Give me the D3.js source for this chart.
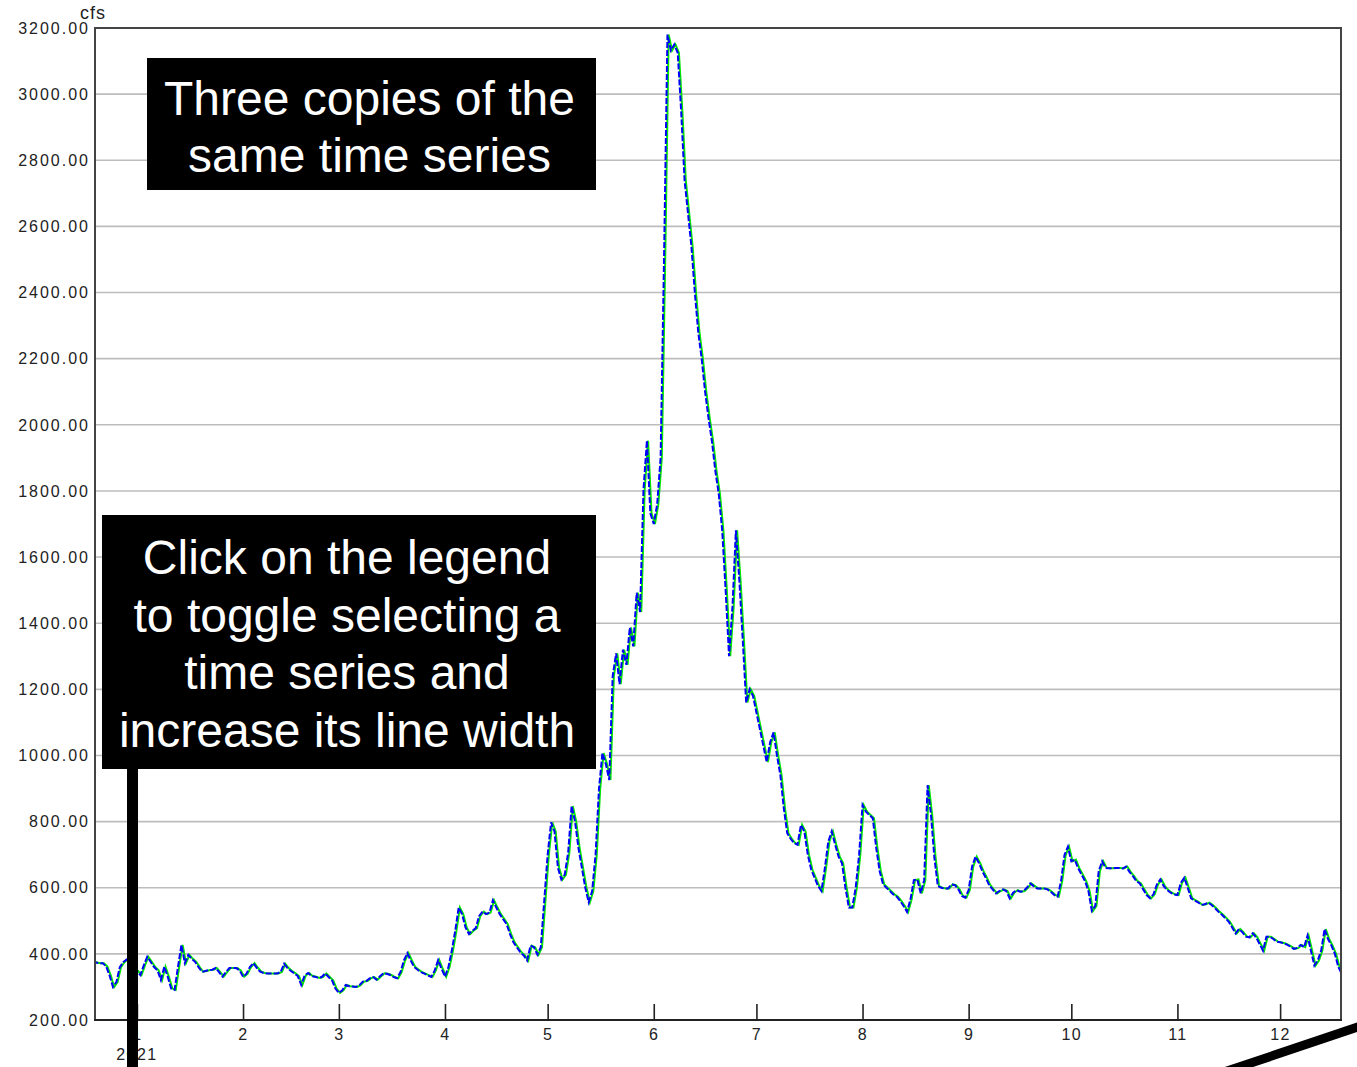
<!DOCTYPE html>
<html>
<head>
<meta charset="utf-8">
<script src="https://cdn.jsdelivr.net/npm/d3@7"></script>
<style>
  html, body { margin: 0; padding: 0; background: #fff; }
  svg { display: block; }
  text { font-family: "Liberation Sans", Arial, sans-serif; }
</style>
</head>
<body>
<svg id="chart" width="1357" height="1067"></svg>
<script>
// daily flow, cfs
const dec2020 = [376, 374, 372, 372, 362, 335, 300, 315, 360, 375, 383, 378, 355] // Dec 19-31
const jan = [348, 336, 365, 391, 376, 360, 350, 321, 361, 331, 295, 291, 361, 427, 372, 397, 385, 376, 360, 346, 348, 351, 352, 357, 345, 331, 345, 357, 357, 357, 350]
const feb = [331, 340, 360, 372, 358, 346, 342, 341, 341, 341, 341, 345, 370, 357, 348, 341, 333, 306, 335, 342, 333, 331, 327, 330, 341, 330, 320, 295]
const mar = [282, 290, 306, 302, 301, 300, 305, 316, 318, 326, 330, 322, 332, 341, 340, 336, 330, 326, 345, 380, 402, 380, 360, 352, 345, 340, 335, 330, 350, 381, 355]
const apr = [331, 360, 410, 470, 540, 520, 480, 460, 470, 478, 515, 528, 520, 525, 562, 540, 520, 505, 490, 460, 435, 420, 405, 395, 380, 425, 420, 398, 420, 560]
const may = [700, 798, 770, 660, 625, 640, 707, 847, 800, 720, 660, 600, 556, 590, 700, 900, 1007, 974, 926, 1240, 1309, 1216, 1320, 1274, 1387, 1330, 1492, 1434, 1804, 1952, 1732]
const jun = [1700, 1760, 1900, 2500, 3180, 3132, 3150, 3125, 2950, 2740, 2640, 2540, 2400, 2280, 2200, 2100, 2020, 1950, 1860, 1790, 1680, 1500, 1300, 1450, 1681, 1530, 1350, 1160, 1200, 1180]
const jul = [1130, 1080, 1030, 980, 1040, 1070, 1000, 940, 840, 765, 748, 735, 730, 790, 770, 700, 655, 630, 605, 590, 660, 740, 770, 730, 694, 674, 600, 540, 540, 600, 700]
const aug = [850, 830, 820, 810, 720, 650, 610, 600, 590, 580, 573, 560, 545, 527, 565, 623, 625, 583, 623, 910, 820, 690, 605, 600, 598, 598, 610, 608, 595, 575, 570]
const sep = [593, 664, 694, 675, 650, 630, 608, 595, 583, 590, 595, 590, 568, 585, 593, 588, 590, 600, 613, 605, 598, 598, 598, 595, 588, 578, 573, 620, 699, 724]
const oct = [680, 685, 659, 640, 620, 590, 530, 545, 650, 680, 660, 659, 659, 660, 660, 658, 664, 648, 635, 620, 613, 595, 578, 568, 580, 610, 625, 605, 593, 585, 580]
const nov = [578, 615, 630, 600, 568, 562, 556, 548, 550, 555, 548, 538, 527, 518, 508, 497, 480, 462, 475, 465, 452, 450, 462, 450, 430, 410, 452, 452, 445, 437]
const dec = [435, 432, 428, 422, 415, 418, 427, 420, 455, 410, 365, 380, 410, 475, 445, 425, 400, 361, 340]

// [year, month index, first day, values]
const pieces = [
  [2020, 11, 19, dec2020], [2021, 0, 1, jan], [2021, 1, 1, feb], [2021, 2, 1, mar],
  [2021, 3, 1, apr], [2021, 4, 1, may], [2021, 5, 1, jun], [2021, 6, 1, jul],
  [2021, 7, 1, aug], [2021, 8, 1, sep], [2021, 9, 1, oct], [2021, 10, 1, nov],
  [2021, 11, 1, dec]
]
const yTicks = [200, 400, 600, 800, 1000, 1200, 1400, 1600, 1800, 2000, 2200, 2400, 2600, 2800, 3000, 3200]
const units = "cfs"
const note1 = ["Three copies of the", "same time series"]
const note2 = ["Click on the legend", "to toggle selecting a", "time series and", "increase its line width"]

const data = []
pieces.forEach(([yr, m, d0, vals]) => {
  vals.forEach((v, i) => data.push({ date: new Date(Date.UTC(yr, m, d0 + i)), value: v }))
})

const svg = d3.select("#chart")
const margin = { top: 28, right: 16, bottom: 47, left: 95 }
const width = 1357, height = 1067
const x0 = margin.left, x1 = width - margin.right
const yTop = margin.top, yBot = height - margin.bottom

const x = d3.scaleUtc()
  .domain([new Date(Date.UTC(2020, 11, 19, 18)), new Date(Date.UTC(2021, 11, 18, 19))])
  .range([x0, x1])
const y = d3.scaleLinear().domain([200, 3200]).range([yBot, yTop])

// grid
svg.append("g")
  .attr("stroke", "#bdbdbd")
  .attr("stroke-width", 1.6)
  .selectAll("line")
  .data(yTicks.slice(1, -1))
  .join("line")
  .attr("x1", x0).attr("x2", x1)
  .attr("y1", d => y(d)).attr("y2", d => y(d))

// y labels
svg.append("g")
  .attr("font-size", 16)
  .attr("letter-spacing", 2)
  .attr("fill", "#222")
  .attr("text-anchor", "end")
  .selectAll("text")
  .data(yTicks)
  .join("text")
  .attr("x", x0 - 5)
  .attr("y", d => y(d))
  .attr("dy", "0.36em")
  .text(d => d3.format(".2f")(d))

svg.append("text")
  .attr("x", 80).attr("y", 19)
  .attr("font-size", 18)
  .attr("letter-spacing", 1)
  .attr("fill", "#222")
  .text(units)

// x axis
const xAxis = d3.axisBottom(x)
  .ticks(d3.utcMonth.every(1))
  .tickFormat(d => d.getUTCMonth() + 1)
  .tickSize(-16)
  .tickPadding(9)

svg.append("g")
  .attr("transform", `translate(0,${yBot})`)
  .call(xAxis)
  .call(g => g.select(".domain").remove())
  .call(g => g.selectAll(".tick line").attr("stroke", "#222").attr("stroke-width", 1.6))
  .call(g => g.selectAll(".tick text")
    .attr("font-size", 16).attr("letter-spacing", 1.5).attr("fill", "#222")
    .attr("font-family", "Liberation Sans, Arial, sans-serif"))

svg.append("text")
  .attr("x", x(new Date(Date.UTC(2021, 0, 1))))
  .attr("y", 1060)
  .attr("text-anchor", "middle")
  .attr("font-size", 16).attr("letter-spacing", 1.5).attr("fill", "#222")
  .text("2021")

// series
svg.append("clipPath").attr("id", "plot")
  .append("rect").attr("x", x0).attr("y", yTop).attr("width", x1 - x0).attr("height", yBot - yTop)

const line = d3.line().x(d => x(d.date)).y(d => y(d.value))
const series = svg.append("g").attr("clip-path", "url(#plot)")
series.append("path")
  .datum(data)
  .attr("transform", "translate(1.2,0)")
  .attr("fill", "none").attr("stroke", "#00e600").attr("stroke-width", 2)
  .attr("d", line)
series.append("path")
  .datum(data)
  .attr("fill", "none").attr("stroke", "#0000ff").attr("stroke-width", 2)
  .attr("stroke-dasharray", "6,2")
  .attr("d", line)

// frame
svg.append("path")
  .attr("fill", "none").attr("stroke", "#444").attr("stroke-width", 2)
  .attr("d", `M${x0},${yBot}V${yTop}H${x1}V${yBot}`)
svg.append("line")
  .attr("x1", x0 - 1).attr("x2", x1 + 1).attr("y1", yBot).attr("y2", yBot)
  .attr("stroke", "#222").attr("stroke-width", 2)

// callouts
function note(lines, bx, by, bw, bh, top, step) {
  svg.append("rect").attr("x", bx).attr("y", by).attr("width", bw).attr("height", bh).attr("fill", "#000")
  svg.append("g")
    .attr("font-size", 48).attr("fill", "#fff").attr("text-anchor", "middle")
    .selectAll("text").data(lines).join("text")
    .attr("x", bx + bw / 2 - 2)
    .attr("y", (d, i) => top + i * step)
    .text(d => d)
}
note(note1, 147, 58, 449, 132, 115, 57)
note(note2, 102, 515, 494, 254, 574, 57.5)

svg.append("rect").attr("x", 127).attr("y", 769).attr("width", 11).attr("height", 300).attr("fill", "#000")
svg.append("line")
  .attr("x1", 1224).attr("y1", 1072).attr("x2", 1364).attr("y2", 1025)
  .attr("stroke", "#000").attr("stroke-width", 9)
</script>
</body>
</html>
